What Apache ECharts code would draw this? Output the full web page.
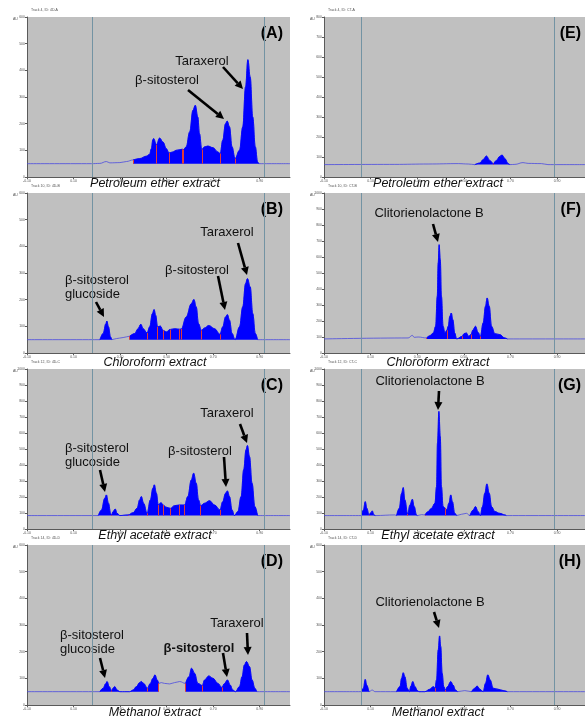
<!DOCTYPE html>
<html>
<head>
<meta charset="utf-8">
<script src="https://cdn.jsdelivr.net/npm/echarts/dist/echarts.min.js"></script>
<style>
html, body { margin: 0; background: #fff; }
#chart { width: 585px; height: 718px; }
</style>
</head>
<body>
<div id="chart"></div>
<script>
// densitogram traces, [Rf, AU]
const traceA = [[-0.1,50],[0.177,50],[0.213,51],[0.241,58],[0.256,53],[0.299,54],[0.327,58],
  [0.356,64],[0.384,69],[0.413,78],[0.427,85],[0.434,106],[0.441,140],[0.444,144],[0.456,121],
  [0.470,146],[0.484,131],[0.499,106],[0.510,90],[0.527,94],[0.541,100],[0.567,104],[0.573,103],
  [0.584,113],[0.599,169],[0.613,250],[0.623,269],[0.634,225],[0.641,163],[0.651,103],[0.663,113],
  [0.677,116],[0.699,110],[0.720,94],[0.730,88],[0.741,138],[0.753,200],[0.760,210],[0.770,188],
  [0.781,113],[0.794,69],[0.813,100],[0.827,188],[0.839,338],[0.849,440],[0.859,375],[0.870,225],
  [0.881,113],[0.891,56],[0.896,50],[1.03,50]]
const boundsA = [0.356, 0.456, 0.510, 0.567, 0.573, 0.651, 0.730, 0.794, 0.896]
const fillsA = [[0.356, 0.896]]

const traceB = [[-0.1,50],[0.213,50],[0.227,73],[0.239,110],[0.243,120],[0.250,98],[0.259,60],
  [0.264,50],[0.284,54],[0.313,58],[0.341,63],[0.363,73],[0.377,91],[0.389,108],[0.399,91],
  [0.416,75],[0.427,98],[0.439,148],[0.446,163],[0.453,141],[0.461,98],[0.473,101],[0.484,85],
  [0.499,79],[0.514,88],[0.534,91],[0.556,89],[0.563,90],[0.584,135],[0.606,185],[0.617,201],
  [0.627,173],[0.637,110],[0.649,85],[0.663,94],[0.681,103],[0.706,91],[0.729,70],[0.741,98],
  [0.753,135],[0.761,144],[0.770,123],[0.781,73],[0.794,50],[0.813,98],[0.827,173],[0.839,260],
  [0.847,279],[0.859,248],[0.870,148],[0.881,73],[0.891,50],[1.03,50]]
const boundsB = [0.213, 0.264, 0.341, 0.416, 0.461, 0.484, 0.514, 0.556, 0.563, 0.649, 0.729, 0.794, 0.891]
const fillsB = [[0.213, 0.264], [0.341, 0.891]]

const traceC = [[-0.1,84],[0.206,84],[0.220,119],[0.234,192],[0.241,213],[0.250,161],[0.260,94],
  [0.263,88],[0.270,109],[0.279,125],[0.287,98],[0.299,84],[0.334,88],[0.356,102],[0.373,129],
  [0.384,182],[0.391,203],[0.401,161],[0.416,98],[0.430,182],[0.441,255],[0.447,276],[0.456,223],
  [0.464,150],[0.476,165],[0.484,150],[0.499,136],[0.516,129],[0.534,146],[0.556,150],[0.577,150],
  [0.591,203],[0.606,307],[0.616,349],[0.627,286],[0.637,182],[0.646,146],[0.663,161],[0.684,177],
  [0.706,150],[0.729,119],[0.741,171],[0.753,223],[0.761,238],[0.770,203],[0.781,119],[0.791,84],
  [0.806,109],[0.820,203],[0.831,370],[0.841,495],[0.847,522],[0.856,453],[0.867,286],[0.879,140],
  [0.891,84],[1.03,84]]
const boundsC = [0.206, 0.263, 0.299, 0.334, 0.416, 0.464, 0.484, 0.516, 0.556, 0.577, 0.646, 0.729, 0.791, 0.891]
const fillsC = [[0.206, 0.299], [0.334, 0.891]]

const traceD = [[-0.1,50],[0.213,50],[0.227,63],[0.239,81],[0.244,88],[0.253,69],[0.263,54],
  [0.270,63],[0.277,69],[0.287,56],[0.299,50],[0.341,50],[0.356,56],[0.370,69],[0.384,84],
  [0.391,88],[0.401,81],[0.417,63],[0.430,81],[0.441,100],[0.450,113],[0.459,94],[0.466,81],
  [0.477,84],[0.491,81],[0.513,79],[0.534,84],[0.556,88],[0.581,81],[0.596,106],[0.607,138],
  [0.620,119],[0.634,81],[0.653,73],[0.663,94],[0.681,109],[0.699,100],[0.720,81],[0.737,66],
  [0.749,81],[0.761,94],[0.773,75],[0.784,56],[0.796,50],[0.813,69],[0.824,106],[0.834,150],
  [0.843,163],[0.856,144],[0.867,94],[0.879,63],[0.887,50],[1.03,50]]
const boundsD = [0.213, 0.263, 0.299, 0.341, 0.417, 0.466, 0.581, 0.653, 0.737, 0.796, 0.887]
const fillsD = [[0.213, 0.299], [0.341, 0.466], [0.581, 0.887]]

const traceE = [[-0.1,62],[0.204,63],[0.347,65],[0.476,67],[0.519,65],[0.547,62],[0.569,70],
  [0.583,87],[0.597,105],[0.611,83],[0.626,67],[0.640,83],[0.654,103],[0.664,110],[0.676,92],
  [0.690,67],[0.697,62],[0.719,63],[0.754,72],[0.776,68],[0.833,67],[0.861,62],[1.02,62]]
const boundsE = [0.547, 0.626, 0.697]
const fillsE = [[0.547, 0.697]]

const traceF = [[-0.1,88],[0.261,94],[0.279,110],[0.287,98],[0.304,100],[0.340,94],[0.354,108],
  [0.369,125],[0.379,167],[0.386,354],[0.390,562],[0.394,677],[0.399,583],[0.404,354],[0.411,167],
  [0.419,125],[0.427,142],[0.433,167],[0.440,229],[0.446,250],[0.453,208],[0.461,125],[0.469,88],
  [0.493,104],[0.501,121],[0.511,125],[0.521,104],[0.530,115],[0.540,146],[0.550,167],[0.561,129],
  [0.571,104],[0.583,188],[0.593,292],[0.600,344],[0.609,292],[0.619,167],[0.633,121],[0.654,115],
  [0.676,94],[0.687,88],[1.02,88]]
const boundsF = [0.340, 0.427, 0.469, 0.493, 0.530, 0.571, 0.687]
const fillsF = [[0.340, 0.469], [0.493, 0.687]]

const traceG = [[-0.1,84],[0.061,84],[0.069,119],[0.077,171],[0.084,129],[0.093,88],[0.101,102],
  [0.107,113],[0.114,88],[0.121,84],[0.204,88],[0.211,84],[0.223,129],[0.233,223],[0.240,259],
  [0.247,182],[0.259,94],[0.269,150],[0.279,186],[0.287,140],[0.297,88],[0.301,84],[0.319,90],
  [0.333,88],[0.347,109],[0.361,129],[0.376,161],[0.383,265],[0.387,537],[0.393,735],[0.399,578],
  [0.404,265],[0.411,140],[0.421,129],[0.427,119],[0.436,161],[0.444,213],[0.451,171],[0.461,98],
  [0.469,84],[0.490,92],[0.511,98],[0.526,84],[0.540,119],[0.550,140],[0.561,109],[0.571,84],
  [0.580,140],[0.590,223],[0.599,282],[0.609,223],[0.619,140],[0.633,109],[0.654,98],[0.676,88],
  [0.683,84],[1.02,84]]
const boundsG = [0.061, 0.093, 0.121, 0.211, 0.259, 0.301, 0.333, 0.421, 0.469, 0.526, 0.571, 0.683]
const fillsG = [[0.061, 0.121], [0.211, 0.301], [0.333, 0.469], [0.526, 0.683]]

const traceH = [[-0.1,50],[0.061,50],[0.069,63],[0.077,96],[0.083,75],[0.093,50],[0.107,56],
  [0.119,50],[0.211,50],[0.226,69],[0.233,100],[0.240,121],[0.247,106],[0.257,63],[0.266,50],
  [0.273,71],[0.281,88],[0.290,69],[0.301,54],[0.307,50],[0.333,50],[0.354,59],[0.369,69],
  [0.376,63],[0.383,94],[0.390,206],[0.396,259],[0.401,219],[0.407,119],[0.414,69],[0.421,56],
  [0.430,69],[0.444,88],[0.454,75],[0.464,56],[0.473,50],[0.504,54],[0.533,50],[0.547,63],
  [0.557,71],[0.569,59],[0.583,50],[0.593,81],[0.603,113],[0.613,94],[0.626,63],[0.647,59],
  [0.669,54],[0.687,50],[1.02,50]]
const boundsH = [0.061, 0.093, 0.211, 0.266, 0.307, 0.333, 0.376, 0.421, 0.473, 0.533, 0.583, 0.687]
const fillsH = [[0.061, 0.093], [0.211, 0.307], [0.333, 0.473], [0.533, 0.687]]

// start / front lines of each column
const guidesLeft = [0.177, 0.92]
const guidesRight = [0.061, 0.89]

const panels = [
  { key: 'A', col: 0, row: 0, trace: traceA, bounds: boundsA, fills: fillsA, yMax: 600, yStep: 100, caption: 'Petroleum ether extract', track: 'Track 4, ID: 4D-A' },
  { key: 'B', col: 0, row: 1, trace: traceB, bounds: boundsB, fills: fillsB, yMax: 600, yStep: 100, caption: 'Chloroform extract', track: 'Track 10, ID: 4D-B' },
  { key: 'C', col: 0, row: 2, trace: traceC, bounds: boundsC, fills: fillsC, yMax: 1000, yStep: 100, caption: 'Ethyl acetate extract', track: 'Track 12, ID: 4D-C' },
  { key: 'D', col: 0, row: 3, trace: traceD, bounds: boundsD, fills: fillsD, yMax: 600, yStep: 100, caption: 'Methanol extract', track: 'Track 14, ID: 4D-D' },
  { key: 'E', col: 1, row: 0, trace: traceE, bounds: boundsE, fills: fillsE, yMax: 800, yStep: 100, caption: 'Petroleum ether extract', track: 'Track 4, ID: CT-A' },
  { key: 'F', col: 1, row: 1, trace: traceF, bounds: boundsF, fills: fillsF, yMax: 1000, yStep: 100, caption: 'Chloroform extract', track: 'Track 10, ID: CT-B' },
  { key: 'G', col: 1, row: 2, trace: traceG, bounds: boundsG, fills: fillsG, yMax: 1000, yStep: 100, caption: 'Ethyl acetate extract', track: 'Track 12, ID: CT-C' },
  { key: 'H', col: 1, row: 3, trace: traceH, bounds: boundsH, fills: fillsH, yMax: 600, yStep: 100, caption: 'Methanol extract', track: 'Track 14, ID: CT-D' }
]

const colBox = [{ left: 27, width: 263, xMax: 1.03, guides: guidesLeft }, { left: 324, width: 261, xMax: 1.02, guides: guidesRight }]
const rowTop = [17, 193, 369, 545]
const captionY = [184, 363, 536, 713]
const H = 160

const grid = [], xAxis = [], yAxis = [], series = [], graphic = []
const tiny = { fontSize: 3.5, color: '#555', fontFamily: 'Liberation Sans' }

panels.forEach(function (p, i) {
  const c = colBox[p.col]
  grid.push({ left: c.left, top: rowTop[p.row], width: c.width, height: H, show: true, backgroundColor: '#c0c0c0', borderWidth: 0 })
  xAxis.push({
    gridIndex: i, type: 'value', min: -0.1, max: c.xMax, interval: 0.2,
    axisLine: { onZero: false, lineStyle: { color: '#5a5a5a', width: 1 } },
    axisTick: { length: 2, lineStyle: { color: '#5a5a5a' } },
    axisLabel: Object.assign({ margin: 2, showMaxLabel: false, formatter: v => v.toFixed(2) }, tiny),
    splitLine: { show: false }
  })
  yAxis.push({
    gridIndex: i, type: 'value', min: 0, max: p.yMax, interval: p.yStep,
    axisLine: { show: true, onZero: false, lineStyle: { color: '#5a5a5a', width: 1 } },
    axisTick: { show: true, length: 2, lineStyle: { color: '#5a5a5a' } },
    axisLabel: Object.assign({ margin: 2, formatter: v => v.toFixed(0) }, tiny),
    splitLine: { show: false }
  })
  const base = p.trace[0][1]
  const inFill = x => p.fills.some(r => x >= r[0] - 1e-9 && x <= r[1] + 1e-9)
  const filled = p.trace.map(d => inFill(d[0]) ? d : [d[0], '-'])
  const topAt = x => p.trace.find(d => Math.abs(d[0] - x) < 1e-9)[1]

  series.push({
    type: 'line', xAxisIndex: i, yAxisIndex: i, data: p.trace,
    smooth: 0.4, smoothMonotone: 'x', showSymbol: false, silent: true,
    lineStyle: { color: '#4a4ae0', width: 0.8 }, z: 3,
    markLine: {
      silent: true, symbol: ['none', 'none'], label: { show: false },
      lineStyle: { color: '#7393a3', width: 1, type: 'solid' },
      data: c.guides.map(g => ({ xAxis: g }))
    }
  })
  series.push({
    type: 'line', xAxisIndex: i, yAxisIndex: i, data: filled,
    smooth: 0.4, smoothMonotone: 'x', showSymbol: false, silent: true, connectNulls: false,
    lineStyle: { color: '#0000ff', width: 0.8 },
    areaStyle: { color: '#0000ff', opacity: 1, origin: base }, z: 4,
    markLine: {
      silent: true, symbol: ['none', 'none'], label: { show: false },
      lineStyle: { color: '#e03a3a', width: 1, type: 'solid' },
      data: p.bounds.map(b => [{ coord: [b, base] }, { coord: [b, topAt(b)] }])
    }
  })

  const capX = c.left + (p.col === 0 ? 128 : 114)
  graphic.push({
    type: 'text', x: capX, y: captionY[p.row], silent: true,
    style: { text: p.caption, font: 'italic 12.5px "Liberation Sans", Arial, sans-serif', fill: '#111',
      align: 'center', verticalAlign: 'middle', textAlign: 'center', textVerticalAlign: 'middle' }
  })
  graphic.push({
    type: 'text', x: c.left + 4, y: rowTop[p.row] - 7, silent: true,
    style: { text: p.track, font: '3.5px "Liberation Sans"', fill: '#555', verticalAlign: 'middle', textVerticalAlign: 'middle' }
  })
  graphic.push({
    type: 'text', x: c.left - 14, y: rowTop[p.row] + 2, silent: true,
    style: { text: 'AU', font: '3.5px "Liberation Sans"', fill: '#555', verticalAlign: 'middle', textVerticalAlign: 'middle' }
  })
  graphic.push({
    type: 'text', x: c.left + c.width - (p.col === 0 ? 7 : 4), y: rowTop[p.row] + 17, silent: true,
    style: { text: '(' + p.key + ')', font: 'bold 16px "Liberation Sans", Arial, sans-serif', fill: '#000',
      align: 'right', verticalAlign: 'middle', textAlign: 'right', textVerticalAlign: 'middle' }
  })
})

// annotations: [text, x, y, align, bold]
const notes = [
  ['Taraxerol', 202, 61, 'center'], ['β-sitosterol', 167, 80, 'center'],
  ['Taraxerol', 227, 232, 'center'], ['β-sitosterol', 197, 270, 'center'], ['β-sitosterol\nglucoside', 65, 287, 'left'],
  ['Taraxerol', 227, 413, 'center'], ['β-sitosterol', 200, 451, 'center'], ['β-sitosterol\nglucoside', 65, 455, 'left'],
  ['Taraxerol', 237, 623, 'center'], ['β-sitosterol', 199, 648, 'center', true], ['β-sitosterol\nglucoside', 60, 642, 'left'],
  ['Clitorienolactone B', 429, 213, 'center'], ['Clitorienolactone B', 430, 381, 'center'], ['Clitorienolactone B', 430, 602, 'center']
]
const arrows = [
  [223, 67, 243, 89], [188, 90, 224, 119],
  [238, 243, 247, 275], [218, 276, 225, 310], [96, 302, 104, 317],
  [240, 424, 247, 443], [224, 457, 226, 487], [100, 470, 105, 492],
  [247, 633, 248, 655], [223, 653, 227, 677], [100, 658, 105, 678],
  [433, 224, 438, 242], [439, 391, 438, 410], [434, 612, 439, 628]
]

notes.forEach(function (n) {
  graphic.push({
    type: 'text', x: n[1], y: n[2], silent: true,
    style: { text: n[0], font: (n[4] ? 'bold ' : '') + '13px "Liberation Sans", Arial, sans-serif', fill: '#111',
      lineHeight: 14, align: n[3], textAlign: n[3], verticalAlign: 'middle', textVerticalAlign: 'middle' }
  })
})

function arrow(x1, y1, x2, y2) {
  const a = Math.atan2(y2 - y1, x2 - x1), len = 8, half = 4
  const bx = x2 - len * Math.cos(a), by = y2 - len * Math.sin(a)
  const nx = -Math.sin(a) * half, ny = Math.cos(a) * half
  return {
    type: 'group', silent: true,
    children: [
      { type: 'line', shape: { x1: x1, y1: y1, x2: bx, y2: by }, style: { stroke: '#000', lineWidth: 2.6 } },
      { type: 'polygon', shape: { points: [[x2, y2], [bx + nx, by + ny], [bx - nx, by - ny]] }, style: { fill: '#000' } }
    ]
  }
}
arrows.forEach(a => graphic.push(arrow(a[0], a[1], a[2], a[3])))

const chart = echarts.init(document.getElementById('chart'), null, { renderer: 'canvas' })
chart.setOption({
  animation: false,
  backgroundColor: '#fff',
  grid: grid, xAxis: xAxis, yAxis: yAxis, series: series,
  graphic: { elements: graphic }
})
</script>
</body>
</html>
